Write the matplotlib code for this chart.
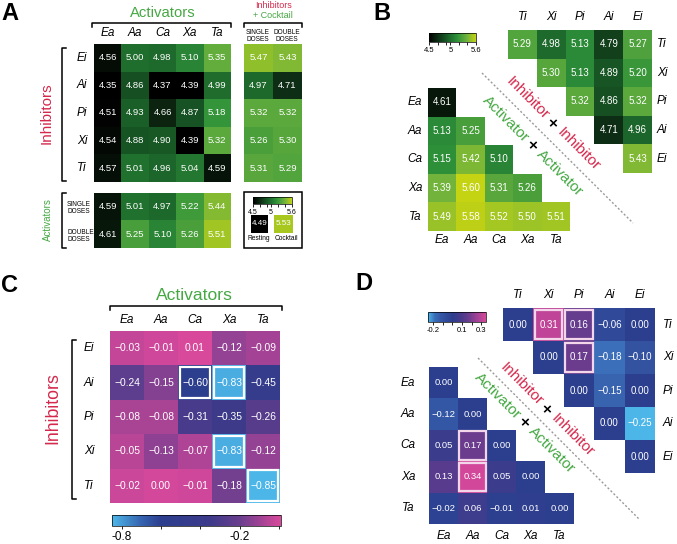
import numpy as np
import matplotlib
matplotlib.use('Agg')
import matplotlib.pyplot as plt
from matplotlib.colors import LinearSegmentedColormap, Normalize
from matplotlib.cm import ScalarMappable
from matplotlib.patches import Rectangle

plt.rcParams['font.family'] = ['Liberation Sans', 'DejaVu Sans']

# ---------------- data ----------------
act = ['Ea', 'Aa', 'Ca', 'Xa', 'Ta']
inh_A = ['Ei', 'Ai', 'Pi', 'Xi', 'Ti']
inh_B = ['Ti', 'Xi', 'Pi', 'Ai', 'Ei']

A_main = [[4.56, 5.00, 4.98, 5.10, 5.35],
          [4.35, 4.86, 4.37, 4.39, 4.99],
          [4.51, 4.93, 4.66, 4.87, 5.18],
          [4.54, 4.88, 4.90, 4.39, 5.32],
          [4.57, 5.01, 4.96, 5.04, 4.59]]
A_cocktail = [[5.47, 5.43],
              [4.97, 4.71],
              [5.32, 5.32],
              [5.26, 5.30],
              [5.31, 5.29]]
A_act_doses = [[4.59, 5.01, 4.97, 5.22, 5.44],
               [4.61, 5.25, 5.10, 5.26, 5.51]]
resting_value = 4.49
cocktail_value = 5.53

nan = np.nan
B_inh = [[5.29, 4.98, 5.13, 4.79, 5.27],
         [nan, 5.30, 5.13, 4.89, 5.20],
         [nan, nan, 5.32, 4.86, 5.32],
         [nan, nan, nan, 4.71, 4.96],
         [nan, nan, nan, nan, 5.43]]
B_act = [[4.61, nan, nan, nan, nan],
         [5.13, 5.25, nan, nan, nan],
         [5.15, 5.42, 5.10, nan, nan],
         [5.39, 5.60, 5.31, 5.26, nan],
         [5.49, 5.58, 5.52, 5.50, 5.51]]

C_vals = [[-0.03, -0.01, 0.01, -0.12, -0.09],
          [-0.24, -0.15, -0.60, -0.83, -0.45],
          [-0.08, -0.08, -0.31, -0.35, -0.26],
          [-0.05, -0.13, -0.07, -0.83, -0.12],
          [-0.02, 0.00, -0.01, -0.18, -0.85]]
C_highlight = [(1, 2), (1, 3), (3, 3), (4, 4)]

D_inh = [[0.00, 0.31, 0.16, -0.06, 0.00],
         [nan, 0.00, 0.17, -0.18, -0.10],
         [nan, nan, 0.00, -0.15, 0.00],
         [nan, nan, nan, 0.00, -0.25],
         [nan, nan, nan, nan, 0.00]]
D_act = [[0.00, nan, nan, nan, nan],
         [-0.12, 0.00, nan, nan, nan],
         [0.05, 0.17, 0.00, nan, nan],
         [0.13, 0.34, 0.05, 0.00, nan],
         [-0.02, 0.06, -0.01, 0.01, 0.00]]
D_inh_highlight = [(0, 1), (0, 2), (1, 2)]
D_act_highlight = [(2, 1), (3, 1)]

# ---------------- setup ----------------
W, H = 677, 544
fig = plt.figure(figsize=(W / 100, H / 100), dpi=100)

GREEN = '#45a843'
RED = '#d4284c'


def rect(x0, y0, x1, y1):
    return [x0 / W, 1 - y1 / H, (x1 - x0) / W, (y1 - y0) / H]


green_cmap = LinearSegmentedColormap.from_list(
    'g', [(0, '#000000'), (0.15, '#0b2410'), (0.4, '#1a6129'),
          (0.6, '#2e9139'), (0.8, '#6cb13e'), (1, '#c4d312')])
green_norm = Normalize(4.5, 5.6)

c_cmap = LinearSegmentedColormap.from_list(
    'c', [(0, '#4db6e8'), (0.17, '#3564b0'), (0.29, '#2c3e8e'),
          (0.58, '#3d3a8a'), (0.76, '#6a3e8e'), (1, '#d8489b')])
c_norm = Normalize(-0.85, 0.01)

d_cmap = LinearSegmentedColormap.from_list(
    'd', [(0, '#4db6e8'), (0.117, '#3a6db8'), (0.217, '#3457a5'),
          (0.417, '#2c3e8e'), (0.583, '#4a3a8b'), (0.7, '#6a3c8e'),
          (1, '#d8489b')])
d_norm = Normalize(-0.25, 0.35)


def fmt2(v):
    return f"{v:.2f}".replace('-', '\u2212')


def heat(box, data, cmap, norm, fs, highlight=(), hl_color='white'):
    ax = fig.add_axes(rect(*box))
    arr = np.array(data, dtype=float)
    nr, nc = arr.shape
    ax.pcolormesh(np.ma.masked_invalid(arr), cmap=cmap, norm=norm,
                  edgecolors='none', antialiased=False)
    ax.set_xlim(0, nc)
    ax.set_ylim(nr, 0)
    ax.axis('off')
    for i in range(nr):
        for j in range(nc):
            if not np.isnan(arr[i, j]):
                ax.text(j + 0.5, i + 0.5, fmt2(arr[i, j]), ha='center',
                        va='center', color='white', fontsize=fs)
    for (i, j) in highlight:
        ax.add_patch(Rectangle((j + 0.05, i + 0.05), 0.9, 0.9, fill=False,
                               ec=hl_color, lw=1.6))
    return ax


def hcbar(box, cmap, norm, ticks, labels, fs, minor=None):
    cax = fig.add_axes(rect(*box))
    cb = fig.colorbar(ScalarMappable(norm=norm, cmap=cmap), cax=cax,
                      orientation='horizontal')
    cb.outline.set_linewidth(0.5)
    cb.set_ticks(ticks, labels=labels)
    if minor is not None:
        cb.ax.xaxis.set_ticks(minor, minor=True)
    cax.tick_params(axis='x', which='both', length=2.5, width=0.6,
                    labelsize=fs, pad=1)
    return cb


# ---------------- Panel A ----------------
heat((94, 44, 231, 182), A_main, green_cmap, green_norm, 6.8)
heat((244, 44, 302, 182), A_cocktail, green_cmap, green_norm, 6.8)
heat((94, 193, 231, 248), A_act_doses, green_cmap, green_norm, 6.8)
heat((251, 215, 268, 233), [[resting_value]], green_cmap, green_norm, 5.8)
heat((274, 215, 293, 233), [[cocktail_value]], green_cmap, green_norm, 5.8)
hcbar((253, 197, 292, 204), green_cmap, green_norm, [4.5, 5.0, 5.6],
      ['4.5', '5', '5.6'], 5, minor=[4.7, 4.9, 5.2, 5.4])

# ---------------- Panel B ----------------
heat((508, 30, 652, 173), B_inh, green_cmap, green_norm, 7)
heat((428, 88, 570, 231), B_act, green_cmap, green_norm, 7)
hcbar((429, 33, 476, 42), green_cmap, green_norm, [4.5, 5.0, 5.6],
      ['4.5', '5', '5.6'], 5.5, minor=[4.7, 4.9, 5.2, 5.4])

# ---------------- Panel C ----------------
heat((110, 331, 280, 503), C_vals, c_cmap, c_norm, 7.4, C_highlight)
hcbar((112, 515, 281, 526), c_cmap, c_norm, [-0.8, -0.6, -0.4, -0.2, 0.0],
      ['-0.8', '', '', '-0.2', ''], 8.5)

# ---------------- Panel D ----------------
heat((503, 308, 655, 473), D_inh, d_cmap, d_norm, 7, D_inh_highlight,
     '#f3d6ea')
heat((429, 367, 574, 524), D_act, d_cmap, d_norm, 6.8, D_act_highlight,
     '#f3d6ea')
hcbar((428, 312, 486, 322), d_cmap, d_norm, [-0.2, 0.1, 0.3],
      ['-0.2', '0.1', '0.3'], 5.5, minor=[-0.1, 0.0, 0.2])

# ---------------- overlay: labels, brackets ----------------
ov = fig.add_axes([0, 0, 1, 1])
ov.set_xlim(0, W)
ov.set_ylim(H, 0)
ov.axis('off')


def T(x, y, s, **kw):
    kw.setdefault('ha', 'center')
    kw.setdefault('va', 'center')
    ov.text(x, y, s, **kw)


def hbracket(x0, x1, y, tick=4):
    ov.plot([x0, x0, x1, x1], [y + tick, y, y, y + tick], color='k', lw=1.1)


def vbracket(y0, y1, x, tick=4):
    ov.plot([x + tick, x, x, x + tick], [y0, y0, y1, y1], color='k', lw=1.1)


def col_labels(x0, x1, y, labels, fs=8.5):
    w = (x1 - x0) / len(labels)
    for k, lab in enumerate(labels):
        T(x0 + w * (k + 0.5), y, lab, fontsize=fs, style='italic')


def row_labels(y0, y1, x, labels, fs=8.5, ha='center'):
    h = (y1 - y0) / len(labels)
    for k, lab in enumerate(labels):
        T(x, y0 + h * (k + 0.5), lab, fontsize=fs, style='italic', ha=ha)


def diag_text(cx, cy, word, color, dist, fs=11):
    d = np.array([1.0, 1.0]) / np.sqrt(2)
    for s in (-1, 1):
        ov.text(cx + s * d[0] * dist, cy + s * d[1] * dist, word, color=color,
                rotation=-45, rotation_mode='anchor', ha='center',
                va='center', fontsize=fs)
    ov.text(cx, cy, '\u00d7', color='k', fontsize=fs, ha='center',
            va='center', fontweight='bold')


# panel letters
for (x, y, s) in [(10, 13, 'A'), (382, 14, 'B'), (10, 286, 'C'),
                  (364, 284, 'D')]:
    T(x, y, s, fontsize=17, fontweight='bold')

# A labels
T(163, 13, 'Activators', color=GREEN, fontsize=10.7)
hbracket(92, 231, 23)
col_labels(94, 231, 33, act)
T(273, 5, 'Inhibitors', color=RED, fontsize=6.5)
T(273, 15, '+ Cocktail', color=GREEN, fontsize=6.5)
hbracket(244, 302, 23)
T(258, 36, 'SINGLE\nDOSES', fontsize=4.7, linespacing=1.0)
T(287, 36, 'DOUBLE\nDOSES', fontsize=4.7, linespacing=1.0)
vbracket(48, 181, 62)
T(47, 113, 'Inhibitors', color=RED, fontsize=11, rotation=90)
row_labels(44, 182, 82, inh_A)
vbracket(193, 248, 62)
T(48, 220, 'Activators', color=GREEN, fontsize=7, rotation=90)
T(67, 208, 'SINGLE\nDOSES', fontsize=4.7, linespacing=1.0, ha='left')
T(67, 236, 'DOUBLE\nDOSES', fontsize=4.7, linespacing=1.0, ha='left')
ov.add_patch(Rectangle((244, 192), 58, 56, fill=False, ec='k', lw=1.1))
T(259, 239, 'Resting', fontsize=4.8)
T(286, 239, 'Cocktail', fontsize=4.8)

# B labels
col_labels(508, 652, 17, inh_B)
row_labels(30, 173, 662, inh_B)
row_labels(88, 231, 415, act)
col_labels(428, 570, 240, act)
ov.plot([482, 633], [73, 223], color='#9a9a9a', lw=1, ls=(0, (1.5, 1.5)))
diag_text(553, 124, 'Inhibitor', RED, 36)
diag_text(533, 146, 'Activator', GREEN, 38.5)

# C labels
T(194, 295, 'Activators', color=GREEN, fontsize=12.6)
hbracket(110, 282, 306)
col_labels(110, 280, 320, act)
vbracket(340, 499, 72)
T(53, 408, 'Inhibitors', color=RED, fontsize=12.8, rotation=90)
row_labels(331, 503, 89, inh_A)

# D labels
col_labels(503, 655, 295, inh_B)
row_labels(308, 473, 668, inh_B)
row_labels(367, 524, 408, act)
col_labels(429, 574, 536, act)
ov.plot([478, 640], [358, 520], color='#9a9a9a', lw=1, ls=(0, (1.5, 1.5)))
diag_text(547, 410, 'Inhibitor', RED, 36)
diag_text(525, 423, 'Activator', GREEN, 38.5)

fig.savefig('out.png', dpi=100)
